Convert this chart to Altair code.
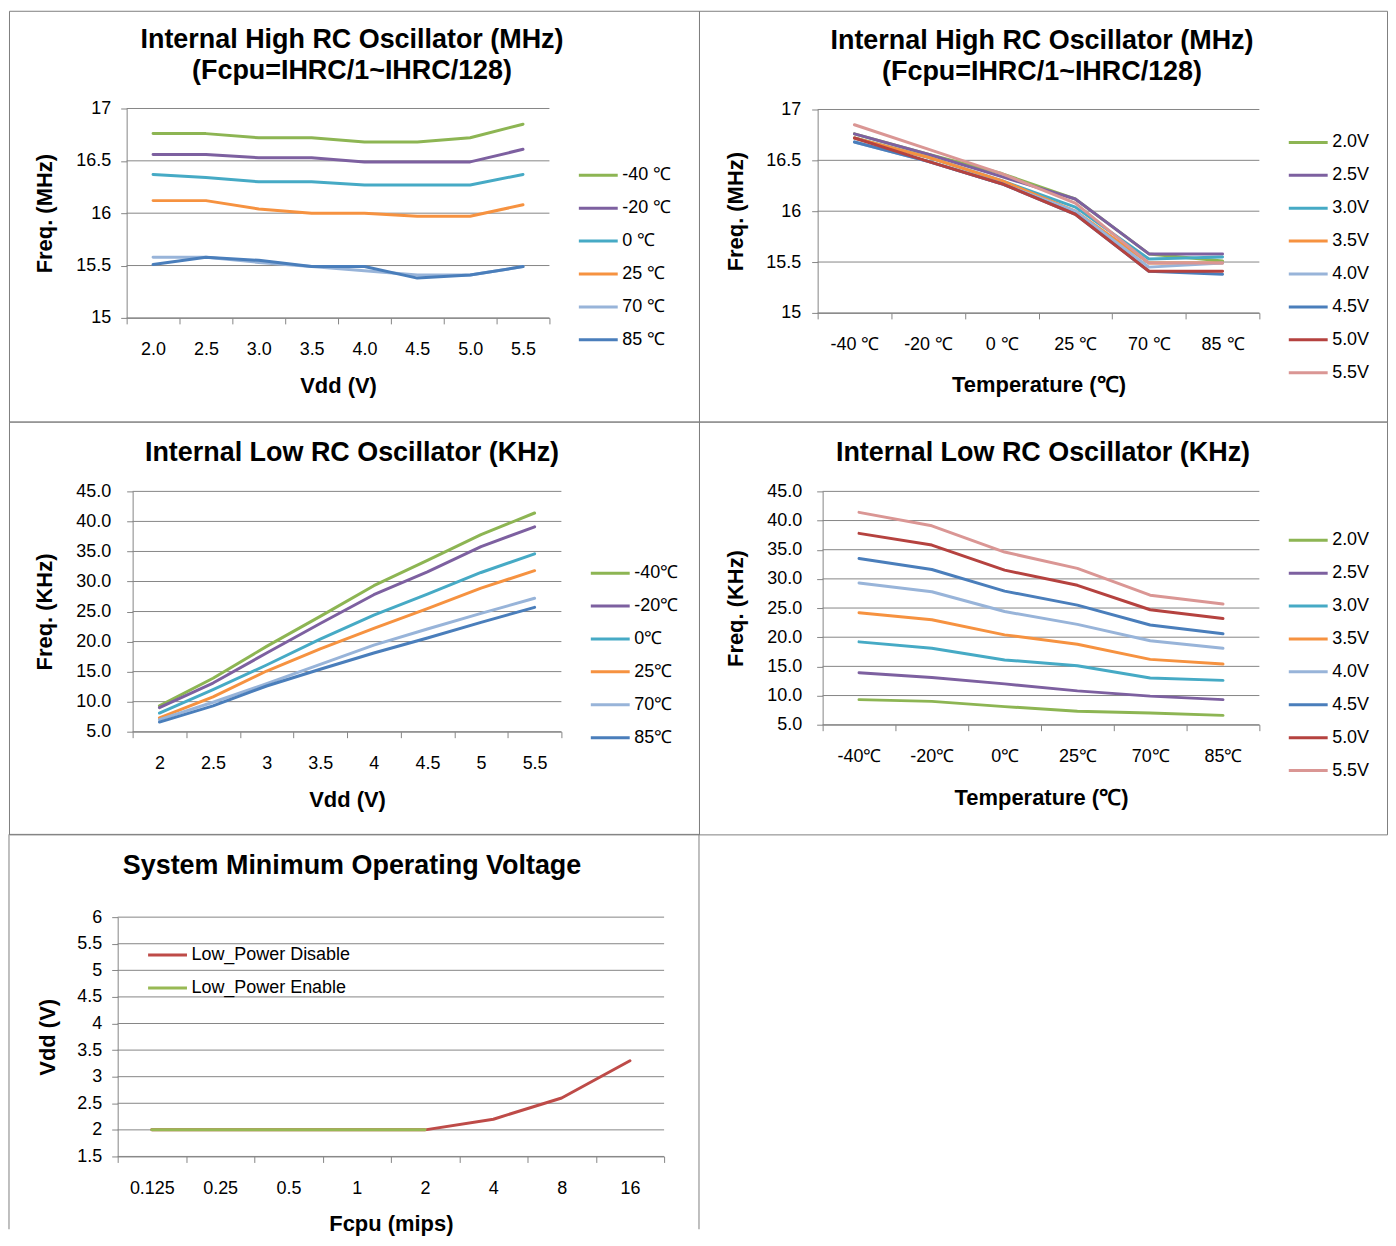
import json
import altair as alt
import pandas as pd

FONT = "Liberation Sans"
GRAY = "#868686"
BORDER = "#7F7F7F"

# ---------- Internal High RC oscillator (MHz) ----------
hirc_vdd = ["2.0", "2.5", "3.0", "3.5", "4.0", "4.5", "5.0", "5.5"]
hirc_temp = ["-40 ℃", "-20 ℃", "0 ℃", "25 ℃", "70 ℃", "85 ℃"]
hirc_m40 = [16.76, 16.76, 16.72, 16.72, 16.68, 16.68, 16.72, 16.85]
hirc_m20 = [16.56, 16.56, 16.53, 16.53, 16.49, 16.49, 16.49, 16.61]
hirc_0 = [16.37, 16.34, 16.30, 16.30, 16.27, 16.27, 16.27, 16.37]
hirc_25 = [16.12, 16.12, 16.04, 16.00, 16.00, 15.97, 15.97, 16.08]
hirc_70 = [15.58, 15.58, 15.53, 15.49, 15.45, 15.41, 15.41, 15.49]
hirc_85 = [15.51, 15.58, 15.55, 15.49, 15.49, 15.38, 15.41, 15.49]

# ---------- Internal Low RC oscillator (KHz) ----------
lirc_vdd = ["2", "2.5", "3", "3.5", "4", "4.5", "5", "5.5"]
lirc_temp = ["-40℃", "-20℃", "0℃", "25℃", "70℃", "85℃"]
lirc_m40 = [9.3, 13.9, 19.2, 24.2, 29.3, 33.5, 37.8, 41.4]
lirc_m20 = [9.0, 13.1, 18.1, 23.0, 27.8, 31.6, 35.8, 39.1]
lirc_0 = [8.1, 12.0, 16.1, 20.4, 24.4, 27.9, 31.5, 34.6]
lirc_25 = [7.3, 10.8, 15.1, 18.8, 22.2, 25.5, 28.9, 31.8]
lirc_70 = [7.0, 9.9, 13.0, 16.2, 19.4, 22.1, 24.7, 27.2]
lirc_85 = [6.6, 9.3, 12.6, 15.4, 18.1, 20.6, 23.2, 25.7]

volt_series = ["2.0V", "2.5V", "3.0V", "3.5V", "4.0V", "4.5V", "5.0V", "5.5V"]

# ---------- System minimum operating voltage ----------
fcpu = ["0.125", "0.25", "0.5", "1", "2", "4", "8", "16"]
lp_series = ["Low_Power Disable", "Low_Power Enable"]
lp_disable = [2.0, 2.0, 2.0, 2.0, 2.0, 2.2, 2.6, 3.3]
lp_enable = [2.0, 2.0, 2.0, 2.0, 2.0]

hirc_ticks = [15, 15.5, 16, 16.5, 17]
lirc_ticks = [5, 10, 15, 20, 25, 30, 35, 40, 45]
lp_ticks = [1.5, 2, 2.5, 3, 3.5, 4, 4.5, 5, 5.5, 6]

temp_colors = ["#8DB553", "#7D60A0", "#46AAC5", "#F69240", "#98B4D9", "#4A7EBB"]
volt_colors = ["#8DB553", "#7D60A0", "#46AAC5", "#F69240", "#98B4D9", "#4A7EBB",
               "#B5423F", "#DA9694"]
lp_colors = ["#BE4B48", "#98B954"]

hirc_rows = [hirc_m40, hirc_m20, hirc_0, hirc_25, hirc_70, hirc_85]
lirc_rows = [lirc_m40, lirc_m20, lirc_0, lirc_25, lirc_70, lirc_85]


def frame_by_series(names, rows):
    recs = []
    for name, vals in zip(names, rows):
        for i, v in enumerate(vals):
            recs.append({"i": i, "v": v, "s": name})
    return pd.DataFrame(recs)


def frame_transposed(rows, col_names):
    # series = columns (voltages), x = rows (temperatures)
    recs = []
    for j, name in enumerate(col_names):
        for i, row in enumerate(rows):
            recs.append({"i": i, "v": row[j], "s": name})
    return pd.DataFrame(recs)


def text_layer(txt, x, y, size=27):
    return alt.Chart(pd.DataFrame({"t": [txt]})).mark_text(
        font=FONT, fontSize=size, fontWeight="bold", align="center",
        baseline="middle", color="black"
    ).encode(text="t:N", x=alt.value(x), y=alt.value(y))


def rule_layer(x1, x2, y1, y2):
    return alt.Chart(pd.DataFrame({"b": [0]})).mark_rule(
        color=BORDER, strokeWidth=1
    ).encode(x=alt.value(x1), x2=alt.value(x2), y=alt.value(y1), y2=alt.value(y2))


def panel(df, labels, series, colors, ydom, yvals, yexpr,
          W, H, x0, y0, w, h,
          xtitle, xtitle_y, ytitle, ytitle_x, ylabpad,
          legend_x, legend_y, deco, view_stroke=True):
    n = len(labels)
    half = [k / 2 - 0.5 for k in range(2 * n + 1)]
    lab_arr = json.dumps(labels, ensure_ascii=False)
    xscale = alt.Scale(domain=[-0.5, n - 0.5], range=[x0, x0 + w], nice=False, zero=False)
    yscale = alt.Scale(domain=ydom, range=[y0 + h, y0], nice=False, zero=False)
    x = alt.X(
        "i:Q", scale=xscale,
        axis=alt.Axis(
            values=half, offset=-(H - (y0 + h)),
            labelExpr=f"datum.value % 1 === 0 ? {lab_arr}[datum.value] : ''",
            tickOpacity={"condition": {"test": "datum.value % 1 === 0", "value": 0}, "value": 1},
            grid=False, labelPadding=17, labelOverlap=False, labelFlush=False,
            title=xtitle, titleX=x0 + w / 2, titleY=xtitle_y, titleAlign="center",
            titleBaseline="middle",
        ),
    )
    yaxis = alt.Axis(
        values=yvals, offset=-x0, labelExpr=yexpr, grid=False, labelPadding=ylabpad,
        title=ytitle, titleX=ytitle_x, titleY=y0 + h / 2, titleAngle=270,
        titleAlign="center", titleBaseline="middle",
    )
    color = alt.Color(
        "s:N", sort=series, title=None,
        scale=alt.Scale(domain=series, range=colors),
        legend=alt.Legend(
            orient="none", legendX=legend_x, legendY=legend_y,
            symbolType="stroke", symbolSize=1521, symbolStrokeWidth=3,
            clipHeight=20, rowPadding=13, labelOffset=3, padding=0,
            labelFontSize=18, labelLimit=0,
        ),
    )
    grid = alt.Chart(pd.DataFrame({"v": yvals})).mark_rule(
        color=GRAY, strokeWidth=1
    ).encode(
        y=alt.Y("v:Q", scale=yscale, axis=yaxis),
        x=alt.value(x0), x2=alt.value(x0 + w),
    )
    lines = alt.Chart(df).mark_line(
        strokeWidth=3, strokeJoin="round", strokeCap="round"
    ).encode(x=x, y=alt.Y("v:Q", scale=yscale, axis=yaxis), color=color)
    props = dict(width=W, height=H)
    if not view_stroke:
        props["view"] = alt.ViewBackground(stroke="transparent")
    return alt.layer(grid, lines, *deco).properties(**props)


T1 = "Internal High RC Oscillator (MHz)"
T1b = "(Fcpu=IHRC/1~IHRC/128)"
T2 = "Internal Low RC Oscillator (KHz)"
T3 = "System Minimum Operating Voltage"

p1 = panel(
    frame_by_series(hirc_temp, hirc_rows), hirc_vdd, hirc_temp, temp_colors,
    [15, 17], hirc_ticks, "'' + datum.value",
    692, 412, 118, 98, 424, 210,
    "Vdd (V)", 68, "Freq. (MHz)", -82, 10, 570, 155,
    [text_layer(T1, 344, 29), text_layer(T1b, 344, 60)],
)
p2 = panel(
    frame_transposed(hirc_rows, volt_series), hirc_temp, volt_series, volt_colors,
    [15, 17], hirc_ticks, "'' + datum.value",
    690, 412, 119, 99, 443, 204,
    "Temperature (℃)", 72, "Freq. (MHz)", -82, 11, 590, 122,
    [text_layer(T1, 344, 30), text_layer(T1b, 344, 61)],
)
p3 = panel(
    frame_by_series(lirc_temp, lirc_rows), lirc_vdd, lirc_temp, temp_colors,
    [5, 45], lirc_ticks, "format(datum.value, '.1f')",
    692, 414, 124, 70, 430, 241,
    "Vdd (V)", 68, "Freq. (KHz)", -88, 16, 582, 142,
    [text_layer(T2, 344, 32)],
)
p4 = panel(
    frame_transposed(lirc_rows, volt_series), lirc_temp, volt_series, volt_colors,
    [5, 45], lirc_ticks, "format(datum.value, '.1f')",
    690, 414, 124, 70, 438, 234,
    "Temperature (℃)", 73, "Freq. (KHz)", -87, 15, 590, 109,
    [text_layer(T2, 345, 32)],
)
p5 = panel(
    frame_by_series(lp_series, [lp_disable, lp_enable]), fcpu, lp_series, lp_colors,
    [1.5, 6], lp_ticks, "'' + datum.value",
    692, 396, 109, 83, 548, 240,
    "Fcpu (mips)", 67, "Vdd (V)", -70, 10, 138, 111,
    [rule_layer(0, 692, 0, 0), rule_layer(0, 0, 0, 396), rule_layer(692, 692, 0, 396),
     text_layer(T3, 344, 32)],
    view_stroke=False,
)

chart = (
    alt.concat(p1, p2, p3, p4, p5, columns=2, spacing=0, bounds="flush")
    .resolve_scale(color="independent", x="independent", y="independent")
    .properties(padding=0)
    .configure(font=FONT, background="white")
    .configure_view(stroke=BORDER, strokeWidth=1)
    .configure_axis(
        labelFont=FONT, labelFontSize=18, labelColor="black",
        titleFont=FONT, titleFontSize=22, titleFontWeight="bold", titleColor="black",
        domainColor=GRAY, tickColor=GRAY,
        tickSize=6, domainWidth=1, tickWidth=1,
    )
    .configure_legend(labelFont=FONT, labelFontSize=18, labelColor="black")
)

chart.save("out.html", embed_options={"renderer": "svg", "actions": False})
